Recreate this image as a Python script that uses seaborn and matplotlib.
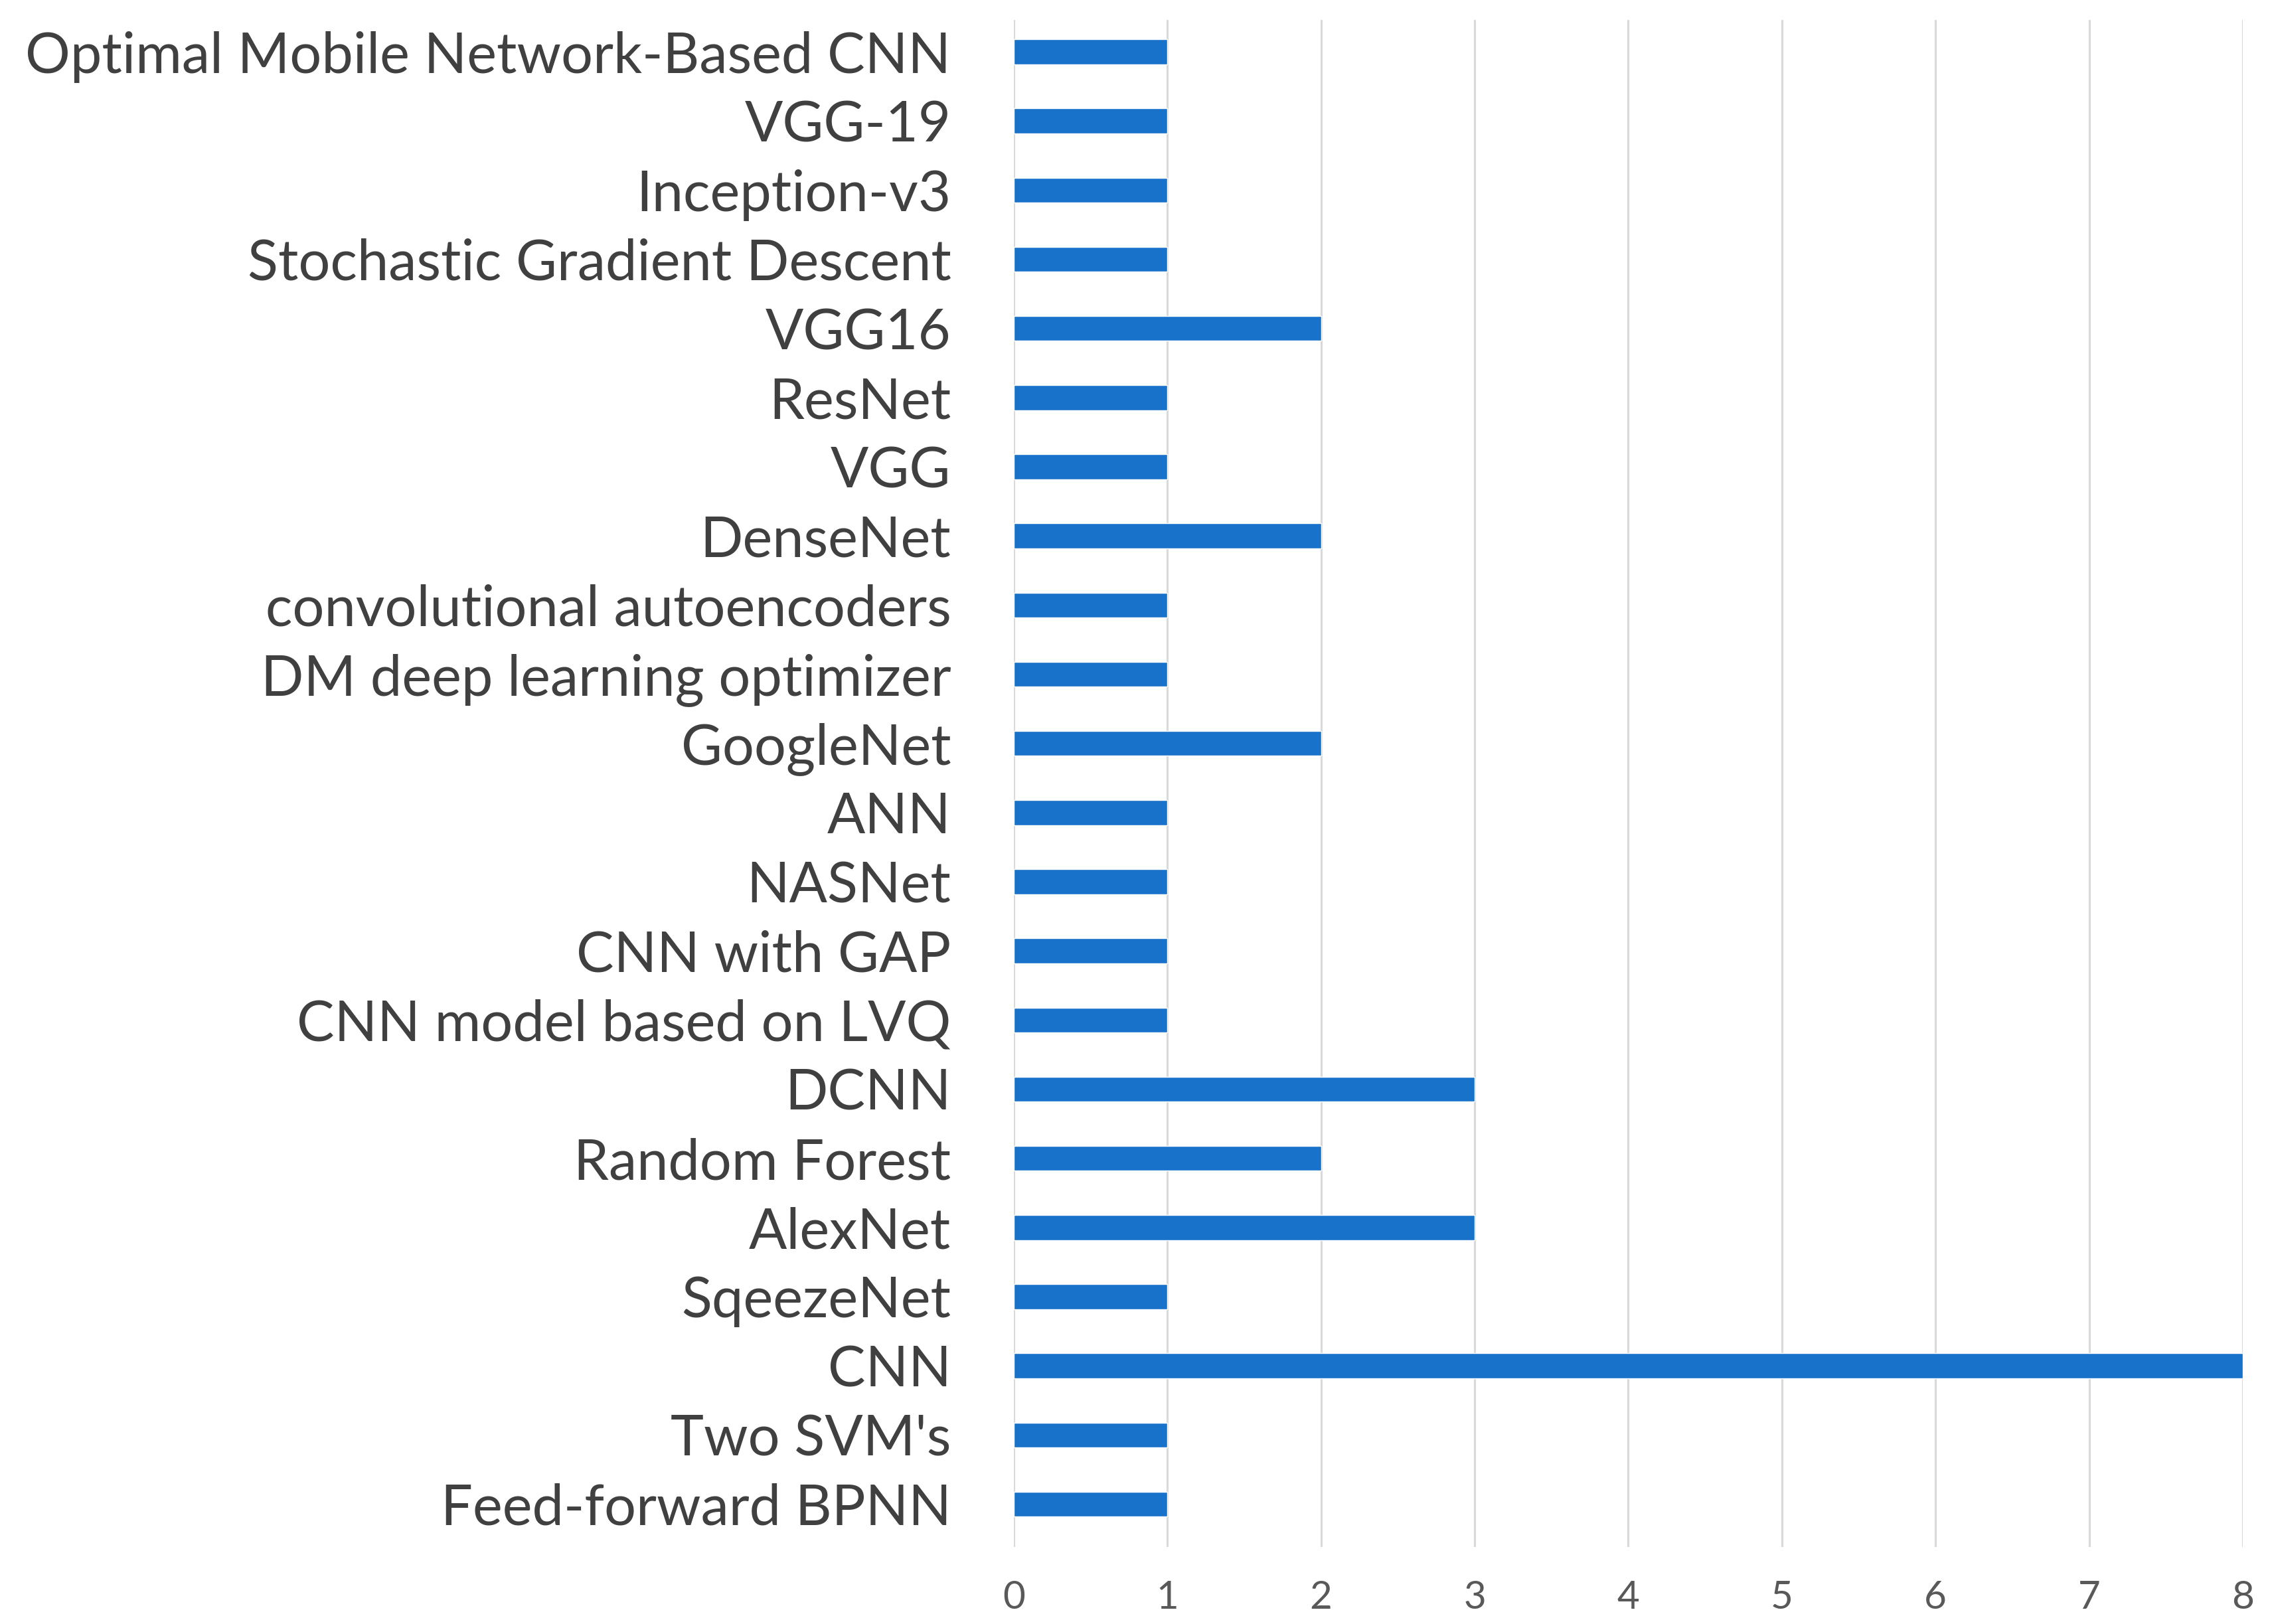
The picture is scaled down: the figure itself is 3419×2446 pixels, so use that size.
import matplotlib
matplotlib.use("Agg")
import matplotlib.pyplot as plt
import seaborn as sns
import pandas as pd

# models listed top to bottom as in the chart
models = [
    "Optimal Mobile Network-Based CNN",
    "VGG-19",
    "Inception-v3",
    "Stochastic Gradient Descent",
    "VGG16",
    "ResNet",
    "VGG",
    "DenseNet",
    "convolutional autoencoders",
    "DM deep learning optimizer",
    "GoogleNet",
    "ANN",
    "NASNet",
    "CNN with GAP",
    "CNN model based on LVQ",
    "DCNN",
    "Random Forest",
    "AlexNet",
    "SqeezeNet",
    "CNN",
    "Two SVM's",
    "Feed-forward BPNN",
]
counts = [1, 1, 1, 1, 2, 1, 1, 2, 1, 1, 2, 1, 1, 1, 1, 3, 2, 3, 1, 8, 1, 1]
x_ticks = [0, 1, 2, 3, 4, 5, 6, 7, 8]

df = pd.DataFrame({"model": models, "count": counts})

sns.set_style("white")
plt.rcParams["font.family"] = ["Lato", "DejaVu Sans"]

fig = plt.figure(figsize=(34.19, 24.46), dpi=100)
ax = fig.add_axes([0.4466, 0.0474, 0.5414, 0.9403])

sns.barplot(data=df, x="count", y="model", orient="h", color="#1872C9",
            saturation=1, width=0.36, ax=ax)

ax.set_xlim(0, 8)
ax.set_ylim(len(models) - 1 + 0.62, -0.46)
ax.set_xticks(x_ticks)
ax.grid(axis="x", color="#D9D9D9", linewidth=2.2)
ax.set_axisbelow(True)
for s in ax.spines.values():
    s.set_visible(False)

ax.set_xlabel("")
ax.set_ylabel("")
ax.tick_params(axis="y", length=0, pad=68, labelsize=61, labelcolor="#404040")
ax.tick_params(axis="x", length=0, pad=36, labelsize=42, labelcolor="#595959")

fig.savefig("out.png", dpi=100, facecolor="white")
